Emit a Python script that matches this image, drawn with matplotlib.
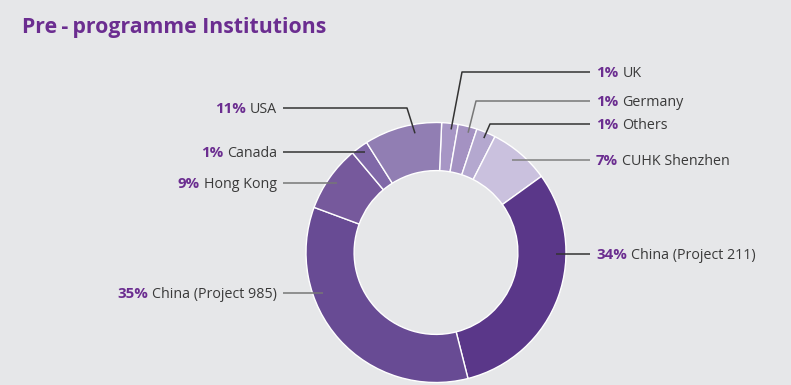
import numpy as np
import matplotlib.pyplot as plt

# Pre-programme institutions (share of students)
names = ['UK', 'Germany', 'Others', 'CUHK Shenzhen', 'China (Project 211)',
         'China (Project 985)', 'Hong Kong', 'Canada', 'USA']
pct_labels = ['1%', '1%', '1%', '7%', '34%', '35%', '9%', '1%', '11%']
# slice sizes as drawn in the picture (labels are rounded)
shares = [2.05, 2.35, 2.4, 7.55, 31.0, 34.6, 8.25, 2.15, 9.65]
colors = ['#a796c5', '#a492c2', '#b4a8cf', '#cac1de', '#5a3789',
          '#684b94', '#76599c', '#8068a8', '#917eb3']

bg = '#e6e7e9'
purple = '#6b2d90'
grey_txt = '#3a3a3a'
plt.rcParams['font.family'] = ['Open Sans', 'DejaVu Sans']

W, H = 791, 385
fig = plt.figure(figsize=(W / 100, H / 100), dpi=100, facecolor=bg)
ax = fig.add_axes([0, 0, 1, 1])
ax.set_facecolor(bg)

cx, cy, R = 436, H - 252.5, 130
ax.pie(shares, colors=colors, startangle=87.5, counterclock=False,
       radius=R, center=(cx, cy),
       wedgeprops=dict(width=R * 0.37, edgecolor='white', linewidth=1.0))
ax.set_xlim(0, W)
ax.set_ylim(0, H)
ax.set_aspect('equal')
ax.axis('off')
renderer = fig.canvas.get_renderer()


def anchor(angle, r):
    a = np.radians(angle)
    return cx + r * np.sin(a), cy + r * np.cos(a)


# (label y in px from top, anchor angle, anchor radius, elbow x or None, line colour)
layout = [
    (72, 7.0, 124, 462, '#333333'),
    (101, 15.0, 124, 476, '#777777'),
    (124, 22.7, 124, 490, '#333333'),
    (160, None, 120, None, '#808080'),
    (254, None, 120, None, '#333333'),
    (293, None, 120, None, '#777777'),
    (183, None, 121, None, '#777777'),
    (152, None, 123, None, '#333333'),
    (108, -10.0, 121, 407, '#333333'),
]
right_side = [True, True, True, True, True, False, False, False, False]

fs = 10.3
fs_pct = 10.8
gap = 4
for name, pct, (ly, ang, r, ex, lc), right in zip(names, pct_labels, layout, right_side):
    y = H - ly
    if ang is not None:
        x0, y0 = anchor(ang, r)
        xs = [x0, ex, 590 if right else 283]
        ys = [y0, y, y]
    else:
        dx = np.sqrt(r ** 2 - (y - cy) ** 2)
        x0 = cx + dx if right else cx - dx
        xs = [x0, 590 if right else 283]
        ys = [y, y]
    ax.plot(xs, ys, color=lc, lw=1.1, solid_capstyle='butt')

    yb = y - 5
    if right:
        t = ax.text(596, yb, pct, color=purple, fontsize=fs_pct, fontweight='bold',
                    ha='left', va='baseline')
        w = t.get_window_extent(renderer).width
        ax.text(596 + w + gap, yb, name, color=grey_txt, fontsize=fs,
                ha='left', va='baseline')
    else:
        t = ax.text(277, yb, name, color=grey_txt, fontsize=fs,
                    ha='right', va='baseline')
        w = t.get_window_extent(renderer).width
        ax.text(277 - w - gap, yb, pct, color=purple, fontsize=fs_pct,
                fontweight='bold', ha='right', va='baseline')

ax.text(22, H - 28, 'Pre\u2009-\u2009programme Institutions', color=purple,
        fontsize=15.3, fontweight='bold', ha='left', va='center')

fig.savefig('out.png', dpi=100, facecolor=bg)
